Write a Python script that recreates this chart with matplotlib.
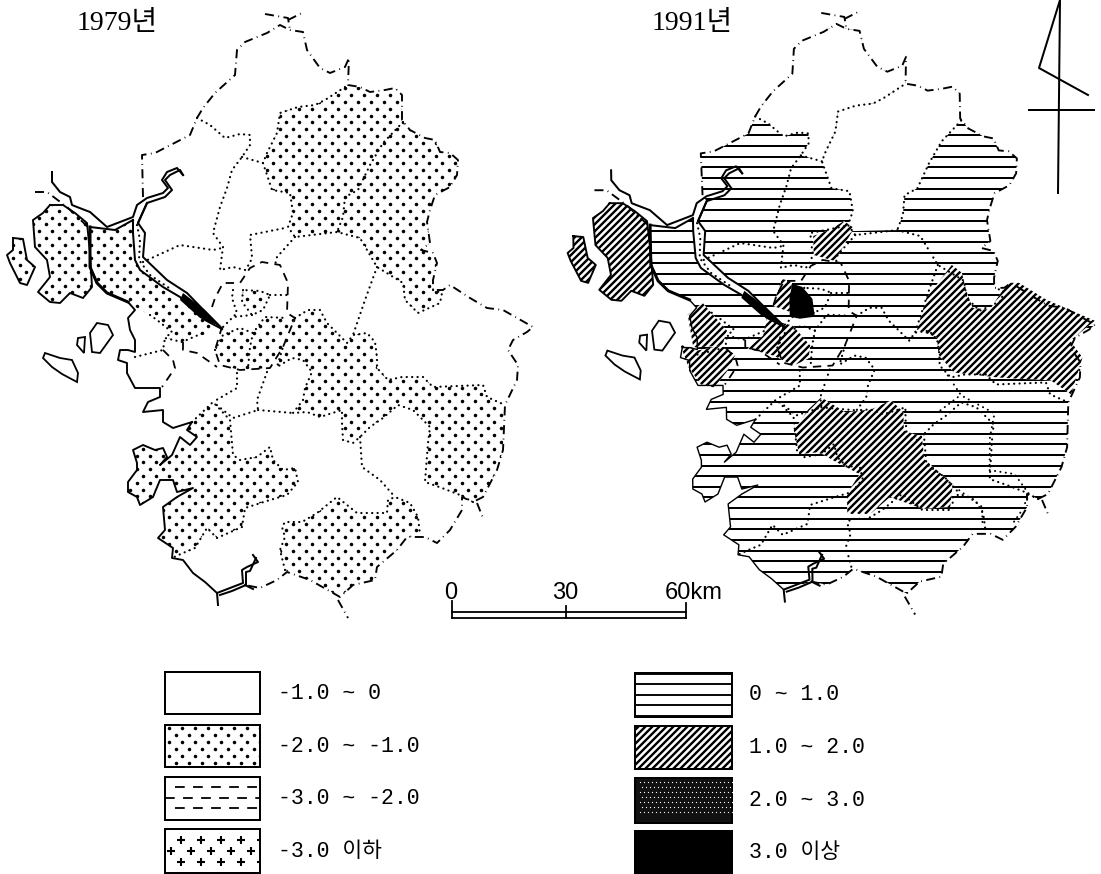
import numpy as np
import matplotlib
matplotlib.use("Agg")
import matplotlib.pyplot as plt
from matplotlib.patches import Polygon, Rectangle
from matplotlib.collections import LineCollection

plt.rcParams['lines.scale_dashes'] = False

TITLES = ["1979년", "1991년"]
LEGEND_LEFT = ["-1.0 ~ 0", "-2.0 ~ -1.0", "-3.0 ~ -2.0", "-3.0 이하"]
LEGEND_RIGHT = ["0 ~ 1.0", "1.0 ~ 2.0", "2.0 ~ 3.0", "3.0 이상"]
SCALE_TICKS = ["0", "30", "60km"]

# Map outlines in image pixels
north_border = [(143,197),(142,155),(155,153),(190,135),(197,118),(203,108),(215,93),(235,75),(237,50),(245,42),
    (267,33),(280,25),(290,30),(303,32),(307,50),(320,68),(330,73),(345,67),(349,58),(348,85),(360,87),(370,92),
    (385,90),(395,88),(402,95),(402,120),(410,130),(425,138),(435,140),(440,152),(450,153),(458,160),(457,175),
    (450,187),(435,195),(430,210),(427,222),(430,243),(421,250),(433,253),(437,263),(433,280),(433,290),(443,290),
    (450,285),(470,298),(487,308),(503,310),(533,327),(527,332),(513,340),(508,350),(518,365),(517,380),(505,405),
    (503,450),(497,470),(483,497),(473,502),(462,497),(462,510),(450,530),(437,543),(425,537),(407,537),(397,550),
    (377,567),(375,580),(353,585),(340,597),(333,593),(310,580),(287,572),(277,580),(260,588),(245,585)]
border_tails = [[(265,14),(288,18),(290,30)], [(288,20),(302,13)], [(477,503),(483,518)], [(338,600),(348,618)], [(35,192),(47,192),(67,207),(88,227)]]
coast = [(217,593),(205,582),(193,573),(183,560),(172,558),(173,548),(158,538),(165,530),(163,507),(177,497),(193,488),
    (177,492),(173,480),(160,480),(153,497),(140,505),(137,497),(128,492),(128,482),(137,470),(137,463),(133,450),
    (143,445),(155,450),(163,448),(167,457),(160,465),(172,455),(180,437),(190,445),(197,437),(187,430),(192,422),
    (173,428),(163,422),(163,410),(143,412),(148,402),(160,397),(160,388),(143,388),(135,388),(127,373),(127,363),
    (118,360),(120,350),(128,350),(135,352),(135,340),(130,330),(128,318),(135,310),(128,302),(107,293),(97,283),(90,267),(90,227)]
gimpo_north = [(90,227),(115,230),(133,220)]
river_west = [(133,220),(133,233),(135,260),(140,270),(163,287),(180,297),(205,320),(222,329)]
river_east = [(222,329),(187,293),(167,280),(143,257),(145,233),(138,223),(147,203)]
river_north = [(52,172),(52,182),(60,192),(70,197),(72,205),(77,207),(90,212),(107,227),(120,222),(133,217),(137,205),(147,198),(163,193),(168,188),(162,180),(167,172),(177,168),(183,175)]
river_inner = [(138,223),(147,203),(165,197),(172,190),(165,180),(170,175),(180,170),(183,175)]
river_wedge = [(183,293),(205,310),(222,327),(200,318),(180,300)]
river_mid = [(137,225),(140,240),(139,260),(150,275),(172,290)]
south_river_a = [(253,555),(258,562),(247,567),(242,570),(243,583),(230,588),(217,593),(218,605)]
south_river_b = [(256,558),(250,571),(246,572),(246,585),(232,591),(220,595)]
south_river_c = [(245,585),(253,589)]
ganghwa = [(50,205),(63,205),(75,213),(87,223),(90,253),(92,287),(83,298),(70,293),(60,303),(50,302),(38,292),(50,277),(47,260),(35,247),(33,220),(43,213)]
islet = [(13,238),(23,239),(27,260),(35,267),(27,285),(20,283),(10,263),(7,255),(13,250)]
isle_a = [(97,323),(108,325),(113,335),(100,353),(92,352),(90,333)]
isle_b = [(78,338),(85,337),(84,353),(77,345)]
isle_c = [(45,353),(60,358),(72,360),(78,373),(77,382),(62,374),(52,367),(43,358)]

# Districts
yeoncheon = [(197,118),(203,108),(215,93),(235,75),(237,50),(245,42),(267,33),(280,25),(290,30),(303,32),(307,50),(320,68),(330,73),(345,67),(349,58),(348,85),(345,87),(325,100),(315,105),(298,107),(280,113),(277,133),(267,153),(263,163),(242,157),(250,145),(250,135),(240,134),(225,138),(210,125)]
pocheon = [(345,87),(325,100),(315,105),(298,107),(280,113),(277,133),(267,153),(263,163),(267,175),(272,190),(290,193),(293,213),(288,227),(293,233),(337,232),(343,217),(345,197),(358,190),(370,165),(383,143),(403,122),(402,95),(395,88),(385,90),(370,92),(360,87)]
northeast = [(345,87),(325,100),(315,105),(298,107),(280,113),(277,133),(267,153),(263,163),(267,175),(272,190),(290,193),(293,213),(288,227),(295,237),(337,232),(360,238),(377,267),(403,283),(405,300),(418,313),(440,303),(442,293),(433,290),(433,280),(437,263),(433,253),(421,250),(430,243),(427,222),(430,210),(435,195),(450,187),(457,175),(458,160),(450,153),(440,152),(435,140),(425,138),(410,130),(402,120),(402,95),(395,88),(385,90),(370,92),(360,87)]
gimpo = [(90,227),(115,230),(133,220),(133,233),(135,260),(140,270),(163,287),(180,297),(205,320),(222,329),(203,335),(182,342),(165,338),(172,332),(157,320),(150,315),(137,308),(128,302),(107,293),(97,283),(90,267)]
center = [(295,318),(308,310),(320,310),(327,323),(347,343),(353,335),(367,333),(375,342),(377,357),(377,368),(388,380),(402,377),(423,377),(433,387),(483,385),(487,397),(505,405),(503,450),(497,470),(483,497),(473,502),(460,495),(442,488),(425,482),(428,443),(430,427),(413,410),(398,405),(383,418),(370,427),(360,437),(353,443),(343,440),(342,423),(342,410),(320,417),(307,412),(293,413),(303,400),(305,388),(312,372),(303,360),(292,358),(277,367),(283,347)]
southwest = [(192,422),(213,402),(230,420),(233,455),(240,460),(257,457),(270,447),(273,460),(283,470),(295,468),(298,482),(287,495),(270,500),(245,508),(242,527),(217,538),(207,528),(195,548),(183,553),(172,558),(173,548),(158,538),(165,530),(163,507),(177,497),(193,488),(177,492),(173,480),(160,480),(153,497),(140,505),(137,497),(128,492),(128,482),(137,470),(137,463),(133,450),(143,445),(155,450),(163,448),(167,457),(160,465),(172,455),(180,437),(190,445),(197,437),(187,430)]
south = [(285,570),(280,550),(285,537),(282,527),(285,522),(302,522),(317,513),(337,497),(357,513),(387,513),(388,500),(395,497),(410,503),(418,517),(420,535),(407,537),(397,550),(377,567),(375,580),(353,585),(340,597),(333,593),(310,580)]
seoul_south = [(223,335),(240,328),(253,333),(265,317),(287,318),(295,318),(283,347),(270,368),(240,370),(220,365),(215,350)]
seoul_mid = [(243,290),(242,302),(252,315),(263,310),(270,295),(260,291),(243,290)]
seoul_outline = [(212,307),(215,298),(223,283),(240,283),(250,268),(262,262),(280,265),(288,283),(287,313),(295,318),(283,347),(270,368),(240,370),(220,365),(215,350),(222,327)]
dotted_lines = [
    [(197,118),(210,125),(225,138),(240,134),(250,135),(250,145),(242,157),(232,170),(227,188),(220,207),(213,233),(223,247),(220,270),(233,267),(245,270),(250,263),(252,257),(250,235),(285,228)],
    [(242,157),(263,163)],
    [(403,122),(383,143),(370,165),(358,190),(345,197),(343,217),(337,232)],
    [(377,267),(365,300),(353,335)],
    [(143,262),(180,245),(213,250),(222,248)],
    [(295,237),(277,257),(275,265)],
    [(233,290),(232,298),(237,313),(223,327)],[(252,315),(233,317)],[(270,295),(287,295)],
    [(253,333),(250,347),(248,368)],[(215,350),(223,335),(240,328),(253,333),(265,317),(287,318)],
    [(267,372),(257,400),(258,410),(233,418),(213,402)],[(258,410),(293,413)],[(237,373),(237,388),(213,402)],
    [(135,357),(163,350),(165,338)],[(360,437),(362,467),(380,480),(395,497)],
    [(150,315),(157,320),(172,332),(165,338),(182,342),(203,333)],
]
interior_edges = [northeast[:23], center[:17], center[20:], southwest[:20], south[:15], seoul_mid]
dashed_lines = [[(163,350),(173,360),(175,368),(162,387)], [(183,342),(183,350),(197,353),(207,360),(217,367)]]
extra_lines_1991 = [[(385,378),(398,398),(431,416),(426,440),(425,473),(450,477),(464,497),(457,513),(447,527)],
    [(377,413),(397,398)],[(390,490),(417,510),(417,530)]]

# Districts of 1991
diag_a = [(355,332),(365,300),(391,267),(401,275),(405,293),(411,310),(428,312),(441,293),(448,285),(458,285),(485,302),(533,323),(508,343),(520,360),(508,397),(488,383),(435,380),(391,375),(376,357),(375,340)]
diag_b = [(230,433),(245,412),(258,400),(282,415),(308,412),(328,403),(340,415),(340,433),(358,440),(360,462),(388,487),(385,510),(358,512),(325,500),(305,517),(282,517),(282,497),(295,477),(272,465),(255,455),(235,457)]
diag_c = [(126,317),(141,305),(165,333),(160,348),(131,350),(128,330)]
diag_d = [(118,347),(135,353),(158,348),(173,357),(165,373),(151,390),(138,387),(126,370)]
diag_e = [(253,238),(269,232),(284,223),(294,230),(274,263),(253,257)]
diag_f = [(211,308),(221,281),(231,284),(228,314)]
diag_g = [(205,321),(231,328),(248,348),(246,361),(231,368),(211,358),(185,351),(201,338)]
dark_a = [(231,286),(241,289),(251,301),(253,319),(238,321),(228,319),(228,301)]

north_arrow = [(1060,0),(1039,68),(1088,95)]
north_stem = [(1060,0),(1058,193)]
north_bar = [(1029,110),(1094,110)]

W, H = 1101, 874
fig = plt.figure(figsize=(W/100, H/100), dpi=100)
ax = fig.add_axes([0, 0, 1, 1])
ax.set_xlim(0, W); ax.set_ylim(H, 0); ax.axis('off')
SERIF = ['Liberation Serif', 'Noto Sans CJK KR']
MONO = ['Liberation Mono', 'Noto Sans CJK KR']
SOLID_PX = 0.72


def to_right(points):
    p = np.asarray(points, float)
    return np.column_stack([p[:, 0] + 556 + 0.018 * p[:, 1], p[:, 1] - 1 - 0.004 * p[:, 1]])


def to_left(points):
    return np.asarray(points, float)


def area(points, z, face='white'):
    patch = Polygon(points, closed=True, facecolor=face, edgecolor='none', zorder=z)
    ax.add_patch(patch)
    return patch


def bbox(points):
    p = np.asarray(points)
    return p[:, 0].min(), p[:, 1].min(), p[:, 0].max(), p[:, 1].max()


def tex_dots(points, patch, z, step=13.0, row=6.8, size=6.5):
    x0, y0, x1, y1 = bbox(points)
    rows = np.arange(np.floor(y0 / row), np.ceil(y1 / row) + 1)
    xs, ys = [], []
    for r in rows:
        off = (r % 2) * step / 2
        cols = np.arange(np.floor(x0 / step) - 1, np.ceil(x1 / step) + 1)
        xs.extend(cols * step + off); ys.extend([r * row] * len(cols))
    sc = ax.scatter(xs, ys, s=size, c='k', linewidths=0, zorder=z)
    sc.set_clip_path(patch)


def tex_h(points, patch, z, step=10.65, base=146.0, lw=2.0):
    x0, y0, x1, y1 = bbox(points)
    k0 = np.floor((y0 - base) / step); k1 = np.ceil((y1 - base) / step)
    ys = base + np.arange(k0, k1 + 1) * step
    lc = ax.hlines(ys, x0, x1, colors='k', linewidth=lw * SOLID_PX, zorder=z)
    lc.set_clip_path(patch)


def tex_diag(points, patch, z, step=7.0, lw=2.4):
    x0, y0, x1, y1 = bbox(points)
    cs = np.arange(np.floor((x0 + y0) / step), np.ceil((x1 + y1) / step) + 1) * step
    segs = [[(c - y0, y0), (c - y1, y1)] for c in cs]
    lc = LineCollection(segs, colors='k', linewidths=lw * SOLID_PX, zorder=z)
    ax.add_collection(lc)
    lc.set_clip_path(patch)


def path(points, px=1.5, style='-', z=8, round_cap=False):
    p = np.asarray(points)
    ln, = ax.plot(p[:, 0], p[:, 1], color='k', lw=px * SOLID_PX, ls=style, zorder=z, solid_joinstyle='round')
    if round_cap:
        ln.set_dash_capstyle('round')
    return ln


DOT = (0, (0.1, 3.8))
BORDER = (0, (6.5, 3.2, 0.6, 3.2))
SEOUL = (0, (6, 4.5))


def draw_boundaries(tr, coast_px):
    path(tr(north_border), 1.9, BORDER)
    for t in border_tails:
        path(tr(t), 1.9, BORDER)
    path(tr(coast), coast_px)
    path(tr(gimpo_north), 2.0)
    path(tr(coast[-5:]), 3.0)
    for line in (river_west, river_east, river_north, river_inner, south_river_a, south_river_b, south_river_c):
        path(tr(line), 2.0)
    path(tr(river_mid), 2.2, DOT, round_cap=True)
    area(tr(river_wedge), 8, 'k')
    for isle in (isle_a, isle_b, isle_c):
        p = Polygon(tr(isle), closed=True, fc='white', ec='k', lw=1.8 * SOLID_PX, zorder=7)
        ax.add_patch(p)
    for line in dotted_lines + interior_edges:
        path(tr(line), 2.2, DOT, round_cap=True)
    for line in dashed_lines:
        path(tr(line), 1.8, SEOUL)
    path(tr(seoul_outline), 1.8, SEOUL)


# ---- 1979 ----
for poly in (northeast, gimpo, center, southwest, south, seoul_south, seoul_mid, ganghwa, islet):
    pts = to_left(poly)
    tex_dots(pts, area(pts, 2), 3)
for poly in (ganghwa, islet):
    path(to_left(list(poly) + [poly[0]]), 1.9)
draw_boundaries(to_left, 1.9)

# ---- 1991 ----
land = north_border + south_river_a[6:7] + coast[1:] + gimpo_north[1:] + river_west[1:] + river_east[1:]
land_pts = to_right(land)
tex_h(land_pts, area(land_pts, 1), 2)
area(to_right(yeoncheon), 3); area(to_right(pocheon), 3)
for poly in (diag_a, diag_b, diag_c, diag_d, diag_e, diag_f, diag_g, ganghwa, islet):
    pts = to_right(poly)
    tex_diag(pts, area(pts, 4), 5)
area(to_right(dark_a), 6, 'k')
for poly in (ganghwa, islet):
    path(to_right(list(poly) + [poly[0]]), 1.9)
for line in extra_lines_1991:
    path(to_right(line), 2.0, DOT, round_cap=True)
draw_boundaries(to_right, 1.4)

# ---- titles ----
ax.text(77, 23, TITLES[0], family=SERIF, fontsize=20, ha='left', va='center', color='k')
ax.text(652, 23, TITLES[1], family=SERIF, fontsize=20, ha='left', va='center', color='k')

# ---- north arrow ----
path(north_arrow, 2.0); path(north_stem, 2.0); path(north_bar, 2.0)

# ---- scale bar ----
for y in (612, 618):
    path([(452, y), (686, y)], 1.8)
for x, top in ((452, 601), (566, 606), (686, 603)):
    path([(x, top), (x, 618)], 1.8)
ax.text(451, 593, SCALE_TICKS[0], family='Liberation Sans', fontsize=17, ha='center', va='center')
ax.text(565, 593, SCALE_TICKS[1], family='Liberation Sans', fontsize=17, ha='center', va='center')
ax.text(665, 593, SCALE_TICKS[2], family='Liberation Sans', fontsize=17, ha='left', va='center')


# ---- legends ----
def legend_box(x, y, w, h):
    r = Rectangle((x, y), w, h, fc='white', ec='k', lw=2.0 * SOLID_PX, zorder=3)
    ax.add_patch(r)
    pts = [(x, y), (x + w, y), (x + w, y + h), (x, y + h)]
    return pts, r


LX, LW = 165, 95
LY = [(672, 42), (725, 42), (777, 43), (829, 44)]
legend_box(LX, LY[0][0], LW, LY[0][1])
pts, r = legend_box(LX, LY[1][0], LW, LY[1][1]); tex_dots(pts, r, 4, step=13.0, row=7.0)
pts, r = legend_box(LX, LY[2][0], LW, LY[2][1])
for row_y, start in ((787, 175), (798, 165), (808, 175)):
    ax.hlines(row_y, start, LX + LW, colors='k', lw=1.3, ls=(0, (7, 6)), zorder=4).set_clip_path(r)
pts, r = legend_box(LX, LY[3][0], LW, LY[3][1])
xs, ys = [], []
for j, yy in enumerate((840, 851, 862)):
    for i in range(7):
        xs.append(LX + 16 + i * 20 - (j % 2) * 10); ys.append(yy)
ax.scatter(xs, ys, s=40, marker='+', c='k', linewidths=1.5, zorder=4).set_clip_path(r)
for (y, h), label in zip(LY, LEGEND_LEFT):
    ax.text(278, y + h / 2 + 0.5, label, family=MONO, fontsize=15.5, ha='left', va='center')

RX, RW = 635, 97
RY = [(673, 44), (726, 43), (778, 45), (831, 42)]
pts, r = legend_box(RX, RY[0][0], RW, RY[0][1]); tex_h(pts, r, 4, step=10.5, base=684.0, lw=1.9)
pts, r = legend_box(RX, RY[1][0], RW, RY[1][1]); tex_diag(pts, r, 4, step=7.0)
pts, r = legend_box(RX, RY[2][0], RW, RY[2][1]); r.set_facecolor('#111111')
xs, ys = [], []
for j in range(7):
    for i in range(24):
        xs.append(RX + 5 + i * 4 + (j % 2) * 2); ys.append(782 + j * 5)
ax.scatter(xs, ys, s=0.8, c='white', linewidths=0, zorder=4).set_clip_path(r)
pts, r = legend_box(RX, RY[3][0], RW, RY[3][1]); r.set_facecolor('k')
for (y, h), label in zip(RY, LEGEND_RIGHT):
    ax.text(749, y + h / 2, label, family=MONO, fontsize=15.5, ha='left', va='center')

fig.savefig('out.png', dpi=100, facecolor='white')
